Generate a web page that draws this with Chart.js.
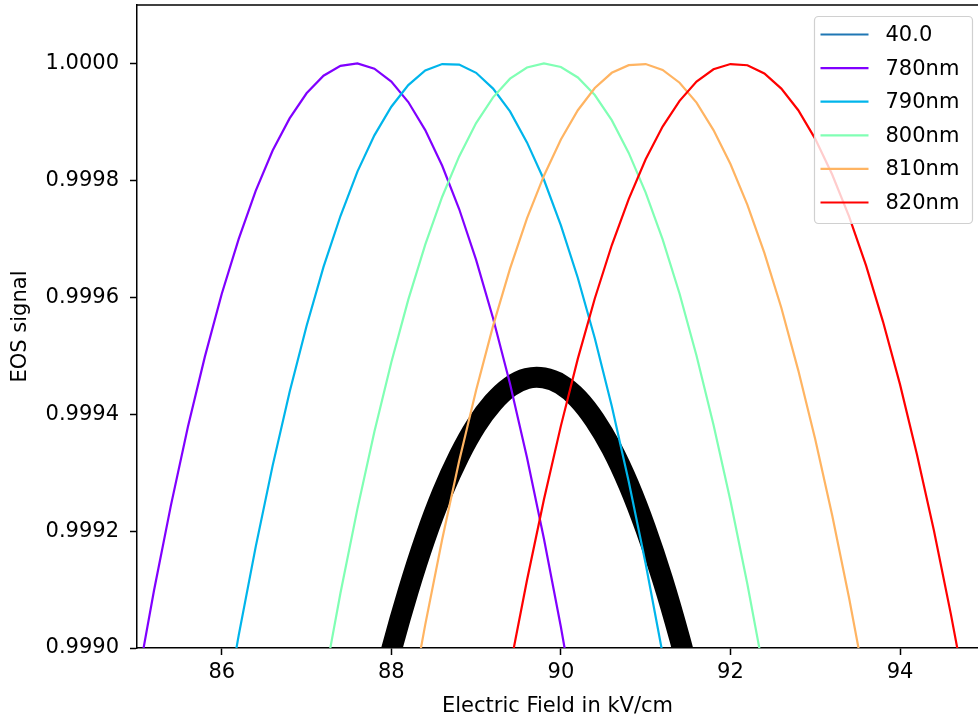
<!DOCTYPE html>
<html>
<head>
<meta charset="utf-8">
<script src="https://cdn.jsdelivr.net/npm/chart.js@4.4.1/dist/chart.umd.min.js"></script>
<style>
  html, body { margin: 0; padding: 0; background: #fff; }
  #wrap { width: 978px; height: 721px; position: relative; }
</style>
</head>
<body>
<div id="wrap"><canvas id="myChart"></canvas></div>
<script>
  // electric field grid (kV/cm)
  var field = [84.8, 85.0, 85.2, 85.4, 85.6, 85.8, 86.0, 86.2, 86.4, 86.6,
               86.8, 87.0, 87.2, 87.4, 87.6, 87.8, 88.0, 88.2, 88.4, 88.6,
               88.8, 89.0, 89.2, 89.4, 89.6, 89.8, 90.0, 90.2, 90.4, 90.6,
               90.8, 91.0, 91.2, 91.4, 91.6, 91.8, 92.0, 92.2, 92.4, 92.6,
               92.8, 93.0, 93.2, 93.4, 93.6, 93.8, 94.0, 94.2, 94.4, 94.6,
               94.8, 95.0];

  var seriesLabels = ['40.0', '780nm', '790nm', '800nm', '810nm', '820nm'];
  var seriesColors = ['#1f77b4', '#8000ff', '#00b5eb', '#80ffb4', '#ffb462', '#ff0000'];

  var eos40 = [];
  var eos780 = [0.998766, 0.998938, 0.999098, 0.999244, 0.999378, 0.999498, 0.999606, 0.999700, 0.999782, 0.999851,
                0.999906, 0.999949, 0.999979, 0.999996, 1.000000, 0.999991, 0.999969, 0.999934, 0.999886, 0.999825,
                0.999751, 0.999664, 0.999564, 0.999452, 0.999326, 0.999187, 0.999036, 0.998871,
                null, null, null, null, null, null, null, null, null, null,
                null, null, null, null, null, null, null, null, null, null,
                null, null, null, null];
  var eos790 = [null, null, null, null, null, null,
                0.998858, 0.999022, 0.999173, 0.999312, 0.999438, 0.999551, 0.999652, 0.999739, 0.999815, 0.999877,
                0.999926, 0.999963, 0.999988, 0.999999, 0.999998, 0.999984, 0.999957, 0.999918, 0.999865, 0.999801,
                0.999723, 0.999633, 0.999530, 0.999414, 0.999285, 0.999144, 0.998990, 0.998824,
                null, null, null, null, null, null, null, null, null, null,
                null, null, null, null, null, null, null, null];
  var eos800 = [null, null, null, null, null, null, null, null, null, null, null, null,
                0.998937, 0.999094, 0.999238, 0.999370, 0.999489, 0.999596, 0.999690, 0.999772, 0.999841, 0.999898,
                0.999942, 0.999974, 0.999993, 1.000000, 0.999994, 0.999976, 0.999946, 0.999903, 0.999847, 0.999779,
                0.999699, 0.999606, 0.999500, 0.999382, 0.999252, 0.999109, 0.998954,
                null, null, null, null, null, null, null, null, null, null,
                null, null, null];
  var eos810 = [null, null, null, null, null, null, null, null, null, null,
                null, null, null, null, null, null, null,
                0.998882, 0.999040, 0.999186, 0.999320, 0.999441, 0.999551, 0.999649, 0.999735, 0.999808, 0.999870,
                0.999920, 0.999958, 0.999984, 0.999997, 0.999999, 0.999989, 0.999967, 0.999933, 0.999886, 0.999828,
                0.999758, 0.999676, 0.999582, 0.999475, 0.999357, 0.999227, 0.999085, 0.998931,
                null, null, null, null, null, null, null];
  var eos820 = [null, null, null, null, null, null, null, null, null, null,
                null, null, null, null, null, null, null, null, null, null,
                null, null, null,
                0.998967, 0.999116, 0.999254, 0.999380, 0.999495, 0.999598, 0.999689, 0.999768, 0.999836, 0.999892,
                0.999936, 0.999969, 0.999990, 0.999999, 0.999997, 0.999983, 0.999957, 0.999920, 0.999871, 0.999810,
                0.999738, 0.999654, 0.999558, 0.999451, 0.999331, 0.999201, 0.999058, 0.998904,
                null];
  // thick black curve (no legend entry)
  var eosTotal = [null, null, null, null, null, null, null, null, null, null,
                  null, null, null, null, null,
                  0.998881, 0.998996, 0.999098, 0.999188, 0.999265, 0.999329, 0.999381, 0.999420, 0.999447, 0.999461,
                  0.999462, 0.999451, 0.999427, 0.999390, 0.999341, 0.999279, 0.999204, 0.999117, 0.999017, 0.998905,
                  null, null, null, null, null, null, null, null, null, null,
                  null, null, null, null, null, null, null];

  var xTicks = [86, 88, 90, 92, 94];
  var yTicks = [0.9990, 0.9992, 0.9994, 0.9996, 0.9998, 1.0000];

  var fontFamily = '"DejaVu Sans", sans-serif';

  function toPoints(values) {
    var pts = [];
    for (var i = 0; i < values.length; i++) {
      pts.push({ x: field[i], y: values[i] });
    }
    return pts;
  }

  function noPadding(s) {
    s.paddingTop = 0;
    s.paddingBottom = 0;
    s.paddingLeft = 0;
    s.paddingRight = 0;
  }

  var allSeries = [eos40, eos780, eos790, eos800, eos810, eos820];
  var datasets = [];
  for (var i = 0; i < allSeries.length; i++) {
    datasets.push({
      label: seriesLabels[i],
      data: toPoints(allSeries[i]),
      borderColor: seriesColors[i],
      borderWidth: 2.2,
      pointRadius: 0,
      tension: 0,
      fill: false,
      clip: 0,
      order: allSeries.length - i
    });
  }
  datasets.push({
    label: '',
    data: toPoints(eosTotal),
    borderColor: '#000000',
    borderWidth: 21,
    borderCapStyle: 'butt',
    borderJoinStyle: 'round',
    pointRadius: 0,
    tension: 0.4,
    fill: false,
    clip: 0,
    order: 10
  });

  // top spine + matplotlib-like legend box
  var frameAndLegend = {
    id: 'frameAndLegend',
    afterDraw: function(chart) {
      var ctx = chart.ctx;
      var area = chart.chartArea;
      ctx.save();
      ctx.strokeStyle = '#000';
      ctx.lineWidth = 1.5;
      ctx.beginPath();
      ctx.moveTo(area.left, area.top);
      ctx.lineTo(area.right, area.top);
      ctx.stroke();

      var items = chart.data.datasets.filter(function(d) { return d.label; });
      var bx = area.right - 163.5, by = area.top + 11.5, bw = 158, bh = 207;
      ctx.beginPath();
      ctx.roundRect(bx, by, bw, bh, 4);
      ctx.fillStyle = 'rgba(255,255,255,0.8)';
      ctx.fill();
      ctx.strokeStyle = '#d0d0d0';
      ctx.lineWidth = 1.2;
      ctx.stroke();

      ctx.font = '21px ' + fontFamily;
      ctx.textAlign = 'left';
      ctx.textBaseline = 'middle';
      items.forEach(function(d, k) {
        var y = by + 18 + k * 33.6;
        ctx.strokeStyle = d.borderColor;
        ctx.lineWidth = 2.2;
        ctx.beginPath();
        ctx.moveTo(bx + 6, y);
        ctx.lineTo(bx + 54, y);
        ctx.stroke();
        ctx.fillStyle = '#000';
        ctx.fillText(d.label, bx + 71, y + 1);
      });
      ctx.restore();
    }
  };

  var ctx = document.getElementById('myChart').getContext('2d');
  var eosChart = new Chart(ctx, {
    type: 'line',
    data: { datasets: datasets },
    options: {
      responsive: true,
      maintainAspectRatio: false,
      animation: false,
      layout: { padding: { top: 5, right: 0, left: 0, bottom: 0 } },
      plugins: {
        legend: { display: false },
        tooltip: { enabled: false }
      },
      scales: {
        x: {
          type: 'linear',
          min: 85.0,
          max: 94.92,
          afterFit: function(s) { s.height = 73; noPadding(s); },
          afterBuildTicks: function(s) { s.ticks = xTicks.map(function(v) { return { value: v }; }); },
          border: { display: true, color: '#000', width: 1.5 },
          grid: { display: true, drawOnChartArea: false, drawTicks: true, tickLength: 7, tickColor: '#000', tickWidth: 1.5 },
          ticks: {
            color: '#000',
            font: { family: fontFamily, size: 21 },
            padding: 5,
            maxRotation: 0,
            callback: function(v) { return String(v); }
          },
          title: {
            display: true,
            text: 'Electric Field in kV/cm',
            color: '#000',
            font: { family: fontFamily, size: 21 },
            padding: { top: 0, bottom: 2 }
          }
        },
        y: {
          type: 'linear',
          min: 0.9990,
          max: 1.0001,
          afterFit: function(s) { s.width = 137; noPadding(s); },
          afterBuildTicks: function(s) { s.ticks = yTicks.map(function(v) { return { value: v }; }); },
          border: { display: true, color: '#000', width: 1.5 },
          grid: { display: true, drawOnChartArea: false, drawTicks: true, tickLength: 7, tickColor: '#000', tickWidth: 1.5 },
          ticks: {
            color: '#000',
            font: { family: fontFamily, size: 21 },
            padding: 11,
            callback: function(v) { return Number(v).toFixed(4); }
          },
          title: {
            display: true,
            text: 'EOS signal',
            color: '#000',
            font: { family: fontFamily, size: 21 },
            padding: { top: 8, bottom: 0 }
          }
        }
      }
    },
    plugins: [frameAndLegend]
  });
</script>
</body>
</html>
